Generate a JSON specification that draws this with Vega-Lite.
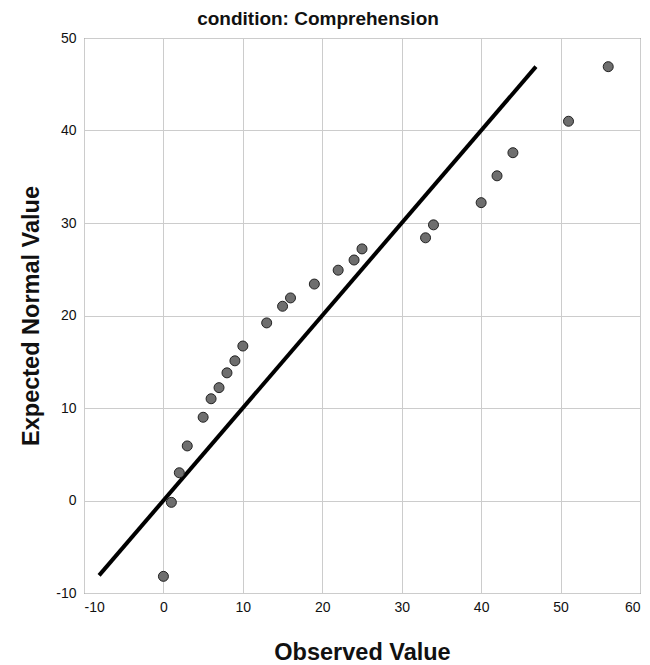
{
  "$schema": "https://vega.github.io/schema/vega-lite/v6.json",
  "autosize": "none",
  "width": 556,
  "height": 555,
  "padding": {"left": 84, "top": 38, "right": 10, "bottom": 72},
  "background": "white",
  "config": {
    "font": "Liberation Sans",
    "view": {"stroke": "#444444", "strokeWidth": 1},
    "axis": {
      "grid": true,
      "gridColor": "#cccccc",
      "gridWidth": 1,
      "domain": false,
      "ticks": false,
      "labelFont": "Liberation Sans",
      "labelFontSize": 14,
      "labelColor": "#111111",
      "labelExpr": "datum.value < 0 ? '-' + abs(datum.value) : '' + datum.value",
      "titleFont": "Liberation Sans",
      "titleFontSize": 23.5,
      "titleFontWeight": "bold",
      "titleColor": "#111111"
    }
  },
  "title": {
    "text": "condition: Comprehension",
    "fontSize": 19,
    "fontWeight": "bold",
    "font": "Liberation Sans",
    "color": "#111111",
    "anchor": "middle",
    "dx": -44,
    "offset": 2
  },
  "datasets": {
    "points": [
      {"observed": 0, "expected": -8.2},
      {"observed": 1, "expected": -0.2},
      {"observed": 2, "expected": 3.0},
      {"observed": 3, "expected": 5.9},
      {"observed": 5, "expected": 9.0},
      {"observed": 6, "expected": 11.0},
      {"observed": 7, "expected": 12.2},
      {"observed": 8, "expected": 13.8},
      {"observed": 9, "expected": 15.1},
      {"observed": 10, "expected": 16.7},
      {"observed": 13, "expected": 19.2},
      {"observed": 15, "expected": 21.0},
      {"observed": 16, "expected": 21.9},
      {"observed": 19, "expected": 23.4},
      {"observed": 22, "expected": 24.9},
      {"observed": 24, "expected": 26.0},
      {"observed": 25, "expected": 27.2},
      {"observed": 33, "expected": 28.4},
      {"observed": 34, "expected": 29.8},
      {"observed": 40, "expected": 32.2},
      {"observed": 42, "expected": 35.1},
      {"observed": 44, "expected": 37.6},
      {"observed": 51, "expected": 41.0},
      {"observed": 56, "expected": 46.9}
    ],
    "refline": [
      {"observed": -8.1, "expected": -8.1},
      {"observed": 46.9, "expected": 46.9}
    ]
  },
  "layer": [
    {
      "data": {"name": "refline"},
      "mark": {"type": "line", "color": "#000000", "strokeWidth": 4},
      "encoding": {
        "x": {"field": "observed", "type": "quantitative",
              "scale": {"domain": [-10, 60], "nice": false, "zero": false},
              "axis": {"values": [-10, 0, 10, 20, 30, 40, 50, 60], "title": "Observed Value", "labelPadding": 7, "titlePadding": 26}},
        "y": {"field": "expected", "type": "quantitative",
              "scale": {"domain": [-10, 50], "nice": false, "zero": false},
              "axis": {"values": [-10, 0, 10, 20, 30, 40, 50], "title": "Expected Normal Value", "labelPadding": 8, "titlePadding": 12}}
      }
    },
    {
      "data": {"name": "points"},
      "mark": {"type": "point", "shape": "circle", "filled": true, "fill": "#6e6e6e", "stroke": "#222222", "strokeWidth": 1, "size": 100, "opacity": 1},
      "encoding": {
        "x": {"field": "observed", "type": "quantitative"},
        "y": {"field": "expected", "type": "quantitative"}
      }
    }
  ]
}
